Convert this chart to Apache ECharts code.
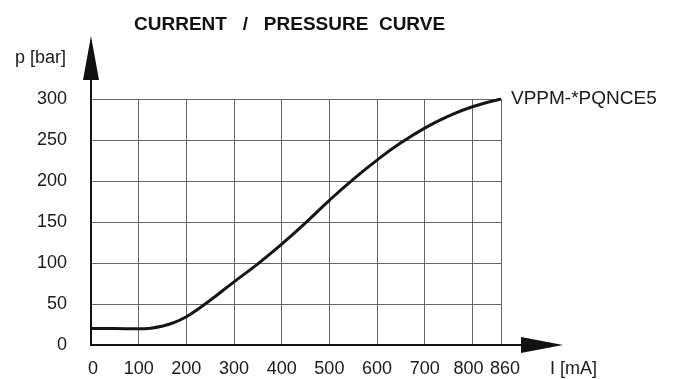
<!DOCTYPE html>
<html>
<head>
<meta charset="utf-8">
<script src="https://cdn.jsdelivr.net/npm/echarts@6/dist/echarts.min.js"></script>
<style>
html,body{margin:0;padding:0;background:#fff;}
#chart{width:675px;height:379px;}
</style>
</head>
<body>
<div id="chart"></div>
<script>
// Data
const chartTitle = 'CURRENT   /   PRESSURE  CURVE';
const seriesName = 'VPPM-*PQNCE5';
const xAxisName = 'I [mA]';
const yAxisName = 'p [bar]';
const currentMA = [0, 50, 100, 125, 150, 175, 200, 225, 250, 300, 350, 400, 450, 500, 550, 600, 650, 700, 750, 800, 860];
const pressureBar = [20, 20, 19.8, 20.5, 23, 27.5, 34.5, 44, 54.5, 77, 99, 123, 149, 176.5, 202, 225.5, 246.5, 264.5, 279, 290.5, 300];
const xMin = 0, xMax = 860, xStep = 100;
const yMin = 0, yMax = 300, yStep = 50;

const FONT = "'Liberation Sans', Arial, sans-serif";
const TXT = '#1a1a1a';
const GRID = '#666666';

const chart = echarts.init(document.getElementById('chart'), null, {renderer: 'canvas'});
chart.setOption({
  animation: false,
  backgroundColor: '#fff',
  title: {
    text: chartTitle,
    left: 129, top: 10,
    textStyle: {fontFamily: FONT, fontSize: 19, fontWeight: 'bold', color: '#111'}
  },
  grid: [
    {left: 91, right: 174, top: 99, bottom: 34},
    {left: 91, right: 133, top: 58, bottom: 34}
  ],
  xAxis: [
    {
      gridIndex: 0, type: 'value', min: xMin, max: xMax, interval: xStep,
      axisLine: {show: false}, axisTick: {show: false},
      splitLine: {show: true, lineStyle: {color: GRID, width: 1}},
      axisLabel: {
        margin: 15, fontFamily: FONT, fontSize: 18, color: TXT,
        formatter: function (v) {
          if (v === 0) return '{z|0}';
          if (v === 800) return '{a|800}';
          if (v === 860) return '{b|860}';
          return String(v);
        },
        rich: {
          z: {fontFamily: FONT, fontSize: 18, color: TXT, padding: [0, 0, 0, 4]},
          a: {fontFamily: FONT, fontSize: 18, color: TXT, padding: [0, 8, 0, 0]},
          b: {fontFamily: FONT, fontSize: 18, color: TXT, padding: [0, 0, 0, 8]}
        }
      }
    },
    {
      gridIndex: 1, type: 'value', min: 0, max: 1,
      axisLine: {show: true, symbol: ['none', 'triangle'], symbolSize: [16, 42],
        lineStyle: {color: '#111', width: 2}},
      axisTick: {show: false}, axisLabel: {show: false}, splitLine: {show: false},
      name: xAxisName, nameLocation: 'end', nameGap: 8,
      nameTextStyle: {fontFamily: FONT, fontSize: 18, color: TXT, align: 'left', verticalAlign: 'top', padding: [15, 0, 0, 0]}
    }
  ],
  yAxis: [
    {
      gridIndex: 0, type: 'value', min: yMin, max: yMax, interval: yStep,
      axisLine: {show: false}, axisTick: {show: false},
      splitLine: {show: true, lineStyle: {color: GRID, width: 1}},
      axisLabel: {margin: 24, fontFamily: FONT, fontSize: 18, color: TXT}
    },
    {
      gridIndex: 1, type: 'value', min: 0, max: 1,
      axisLine: {show: true, symbol: ['none', 'triangle'], symbolSize: [16, 44],
        lineStyle: {color: '#111', width: 2}},
      axisTick: {show: false}, axisLabel: {show: false}, splitLine: {show: false},
      name: yAxisName, nameLocation: 'end', nameGap: 0,
      nameTextStyle: {fontFamily: FONT, fontSize: 18, color: TXT, align: 'right', verticalAlign: 'middle', padding: [0, 25, 0, 0]}
    }
  ],
  series: [{
    name: seriesName,
    type: 'line',
    xAxisIndex: 0, yAxisIndex: 0,
    data: currentMA.map((x, i) => [x, pressureBar[i]]),
    smooth: 0.5,
    showSymbol: false,
    lineStyle: {color: '#151515', width: 3},
    endLabel: {show: true, formatter: '{a}', distance: 10, fontFamily: FONT, fontSize: 19, color: TXT}
  }]
});
</script>
</body>
</html>
